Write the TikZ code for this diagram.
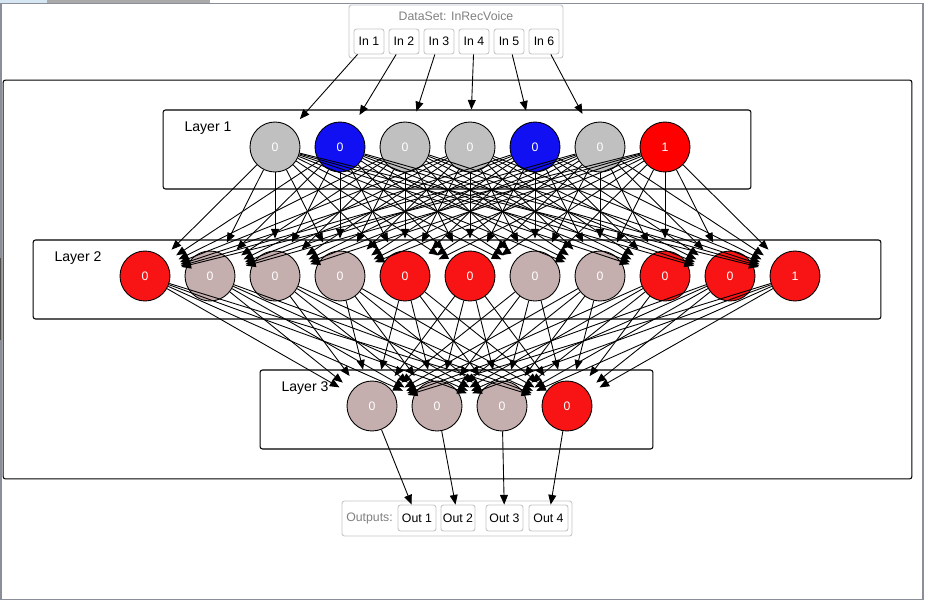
\documentclass[tikz,border=0pt]{standalone}
\usepackage{fontspec}
\setmainfont{Liberation Sans}
\usetikzlibrary{arrows.meta}
\definecolor{ngray}{HTML}{C0C0C0}
\definecolor{nblue}{HTML}{1010F2}
\definecolor{nred}{HTML}{FF0000}
\definecolor{nred2}{HTML}{F81414}
\definecolor{nrosy}{HTML}{C4AEAE}
\definecolor{framegray}{HTML}{8A8E99}
\definecolor{boxgray}{HTML}{C4C4C4}
\definecolor{txtgray}{HTML}{808080}
\definecolor{tabblue}{HTML}{D6E6F2}
\definecolor{tabgray}{HTML}{AAAAAA}
\begin{document}
\begin{tikzpicture}[x=0.02cm,y=-0.02cm,
  neuron/.style={circle, draw=black, line width=0.5pt, minimum size=1cm, inner sep=0pt, text=white, font=\fontsize{7}{8}\selectfont},
  edge/.style={-{Triangle[length=5.5pt,width=4.5pt]}, line width=0.5pt, shorten >=0.24cm},
  oedge/.style={-{Triangle[length=5.5pt,width=4.5pt]}, line width=0.5pt},
  layerbox/.style={draw=black, line width=0.6pt, rounded corners=0.05cm, minimum height=1.58cm, inner sep=0pt},
  lbl/.style={font=\fontsize{8}{9}\selectfont, text=black},
  iobox/.style={draw=boxgray, line width=0.5pt, rounded corners=0.05cm, inner sep=0pt, font=\fontsize{7}{8}\selectfont, minimum height=0.5cm},
  grouptxt/.style={font=\fontsize{7}{8}\selectfont, text=txtgray}]
\useasboundingbox (0,0) rectangle (926,602);
% window frame
\fill[tabblue] (0,0) rectangle (47,3);
\fill[tabgray] (47,0) rectangle (210,3);
\draw[framegray, line width=0.03cm] (1,3.5) rectangle (923,599.5);
\draw[black!70, line width=0.02cm] (0.5,258) -- (0.5,340);
% big box and layer boxes
\node[layerbox, minimum width=18.18cm, minimum height=7.98cm] (big) at (457.5,279.5) {};
\node[layerbox, minimum width=11.76cm] (L1) at (457,149.5) {};
\node[layerbox, minimum width=16.96cm] (L2) at (457,279.5) {};
\node[layerbox, minimum width=7.86cm] (L3) at (456.5,409.5) {};
\node[lbl] (t1) at (208,128) {Layer 1};
\node[lbl] (t2) at (78,258) {Layer 2};
\node[lbl] (t3) at (305,388) {Layer 3};
% dataset
\node[iobox, minimum width=4.28cm, minimum height=1.06cm] (ds) at (456,31.5) {};
\node[grouptxt] (dst) at (456,16) {DataSet: InRecVoice};
\foreach \i/\x in {1/369,2/404,3/439,4/474,5/509,6/544}
  \node[iobox, minimum width=0.6cm] (in\i) at (\x,41.5) {In \i};
% outputs
\node[iobox, minimum width=4.6cm, minimum height=0.7cm] (ob) at (457,518.5) {};
\node[grouptxt] (obt) at (369.5,518.5) {Outputs:};
\foreach \i/\x/\w in {1/417/0.76,2/458/0.68,3/504.5/0.74,4/548.5/0.78}
  \node[iobox, minimum width=\w cm, minimum height=0.52cm] (o\i) at (\x,518) {Out \i};
% layer 1
\foreach \i/\x/\c/\v in {1/275/ngray/0,2/340/nblue/0,3/405/ngray/0,4/470/ngray/0,5/535/nblue/0,6/600/ngray/0,7/665/nred/1}
  \node[neuron, fill=\c] (a\i) at (\x,147) {\v};
% layer 2
\foreach \i/\x/\c/\v in {1/145/nred2/0,2/210/nrosy/0,3/275/nrosy/0,4/340/nrosy/0,5/405/nred2/0,6/470/nred2/0,7/535/nrosy/0,8/600/nrosy/0,9/665/nred2/0,10/730/nred2/0,11/795/nred2/1}
  \node[neuron, fill=\c] (b\i) at (\x,276) {\v};
% layer 3
\foreach \i/\x/\c in {1/372/nrosy,2/437/nrosy,3/502/nrosy,4/567/nred2}
  \node[neuron, fill=\c] (c\i) at (\x,406) {0};
% connections
\foreach \i in {1,...,6} \draw[edge] (in\i) -- (a\i);
\foreach \i in {1,...,7} \foreach \j in {1,...,11} \draw[edge] (a\i) -- (b\j);
\foreach \i in {1,...,11} \foreach \j in {1,...,4} \draw[edge] (b\i) -- (c\j);
\foreach \i in {1,...,4} \draw[oedge] (c\i) -- (o\i);
\end{tikzpicture}
\end{document}
